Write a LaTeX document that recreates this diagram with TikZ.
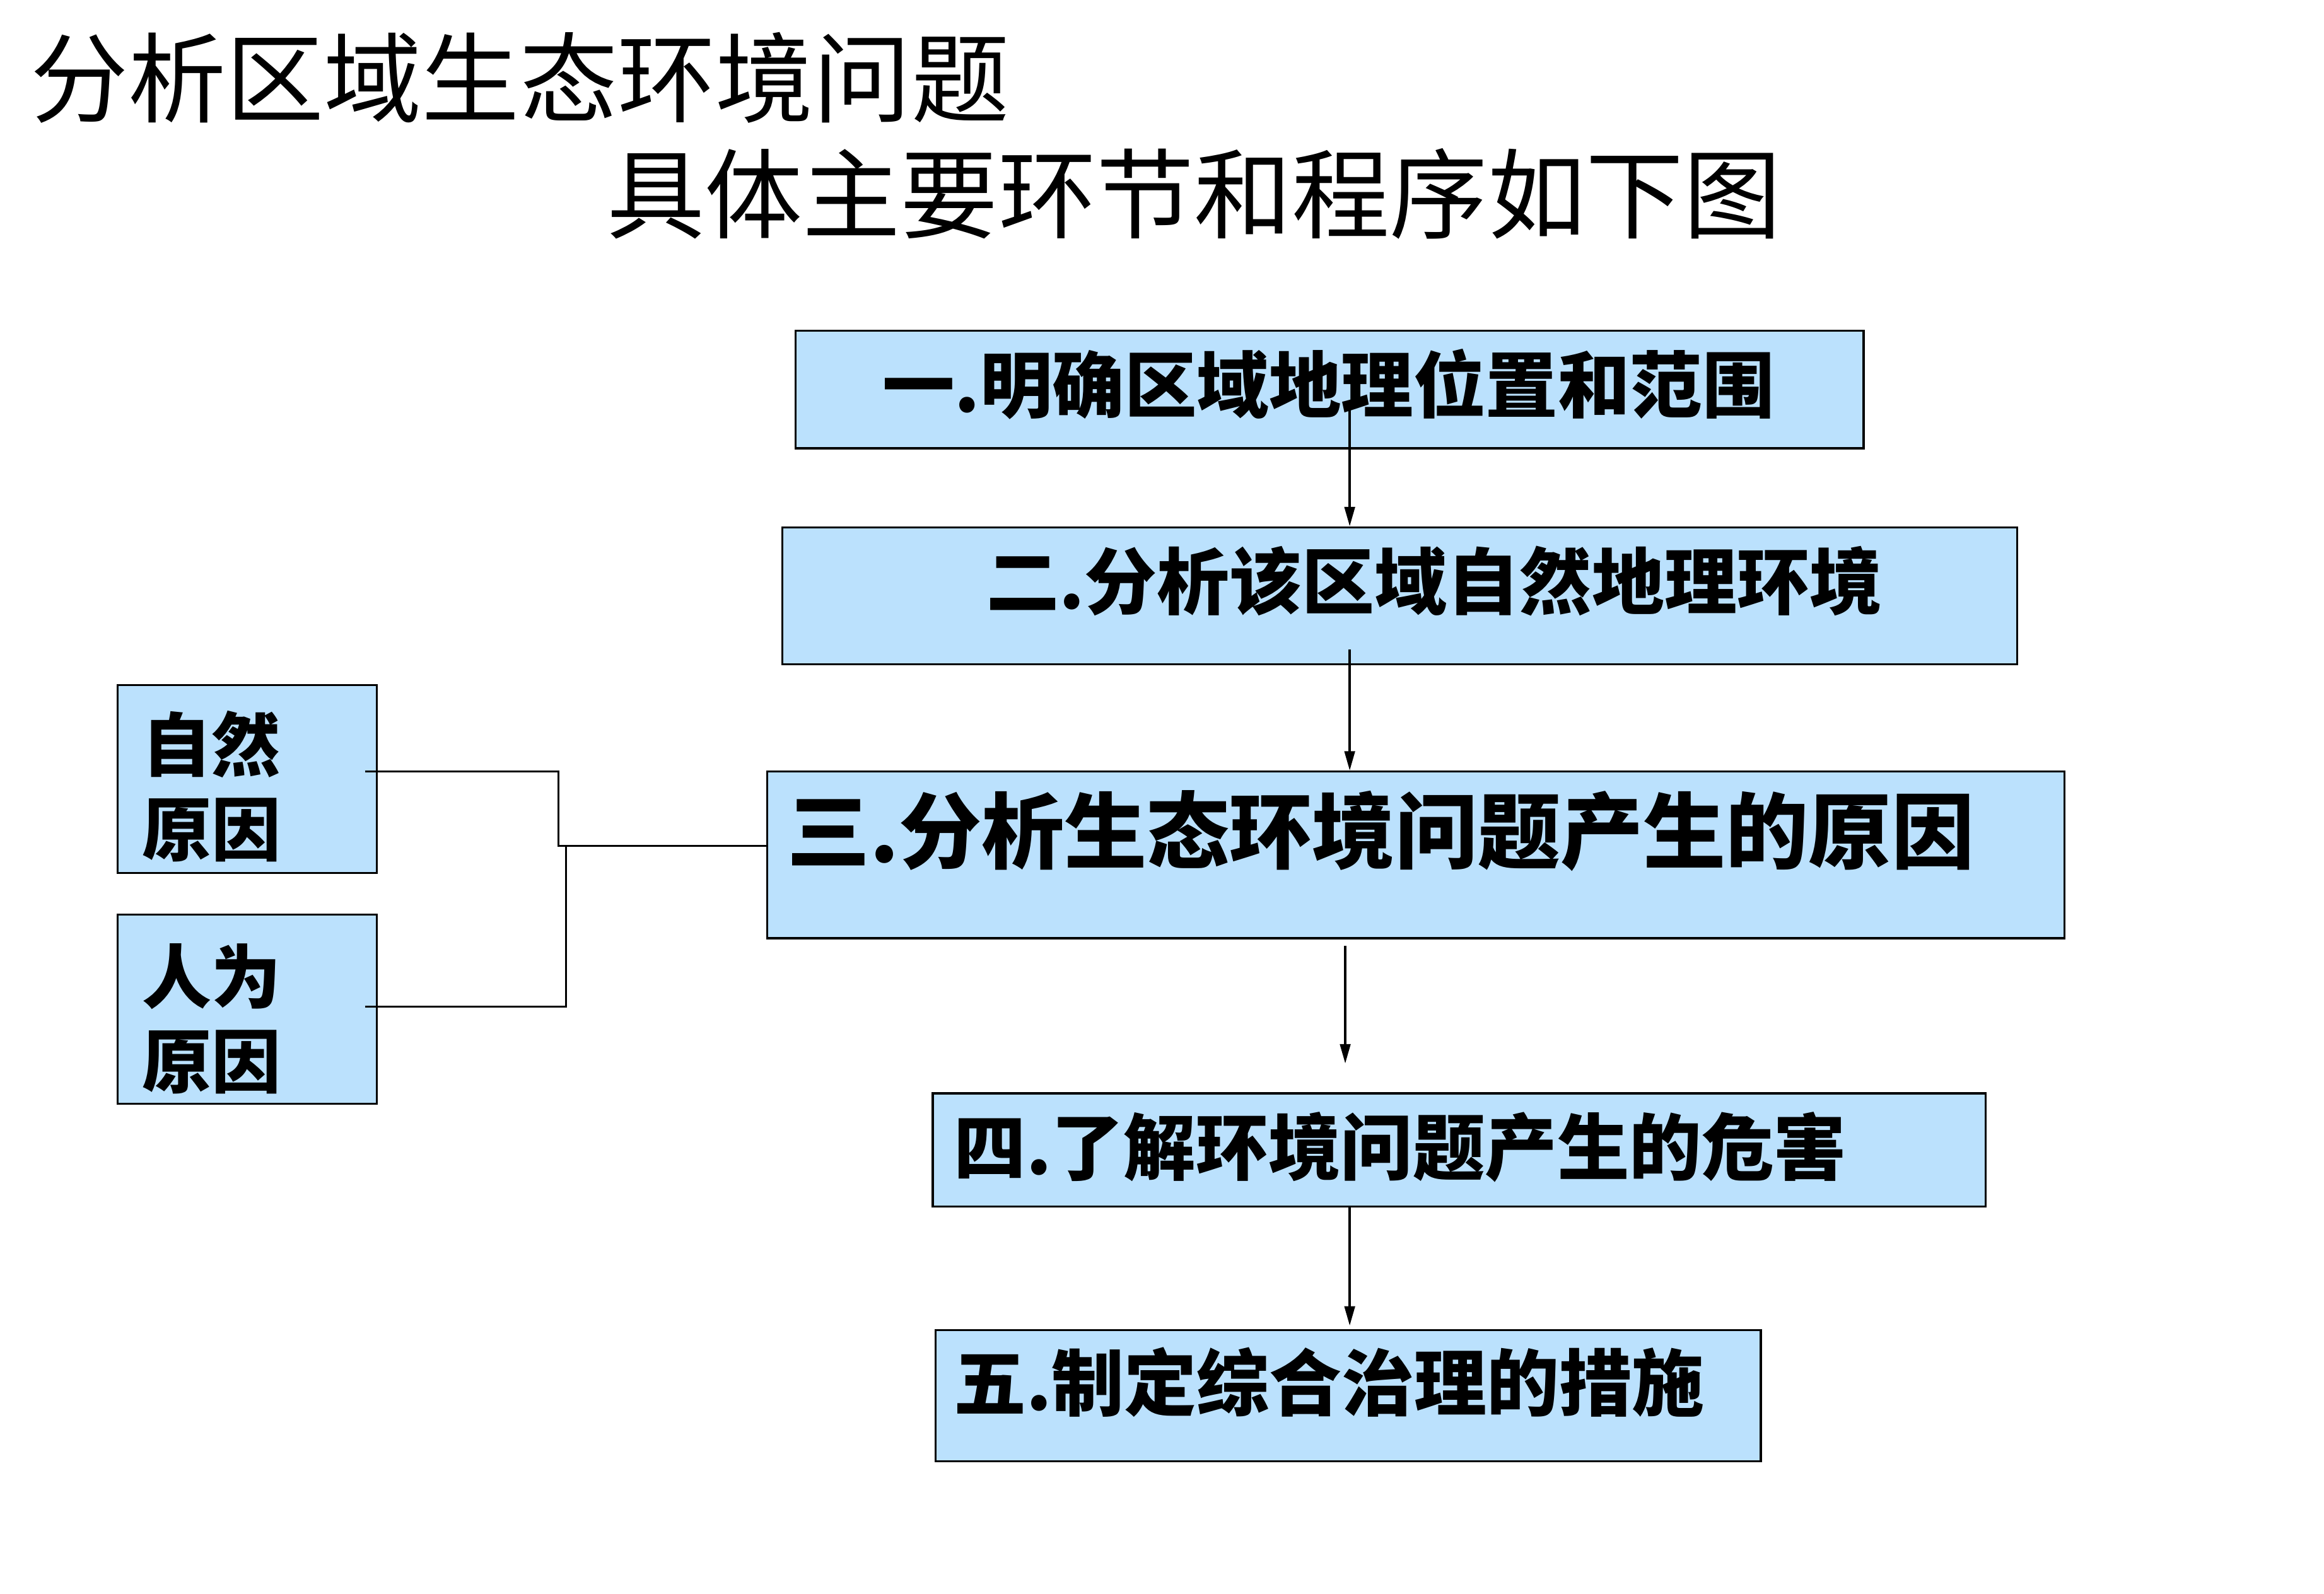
\documentclass[tikz,border=0pt]{standalone}
\usepackage{fontspec}
\usepackage{xcolor}
\usetikzlibrary{positioning}
\usetikzlibrary{arrows.meta}
\newfontfamily\cjk{Noto Sans CJK SC}
\definecolor{boxblue}{RGB}{187,225,253}

\tikzset{
  stagebox/.style={draw=black, line width=0.8pt, fill=boxblue, inner sep=0pt},
  stagetext/.style={anchor=west, inner sep=0pt, font=\cjk\bfseries\fontsize{#1}{#1}\selectfont},
  causetext/.style={anchor=west, inner sep=0pt, align=left, font=\cjk\bfseries\fontsize{26.5pt}{32.4pt}\selectfont},
  titletext/.style={anchor=west, inner sep=0pt, font=\cjk\fontsize{37.4pt}{44pt}\selectfont},
  flow/.style={draw=black, line width=0.8pt, -{Triangle[length=2.6mm,width=1.4mm]}},
  link/.style={draw=black, line width=0.8pt}
}

\begin{document}
\begin{tikzpicture}[x=0.02cm, y=-0.02cm]
\useasboundingbox (0,0) rectangle (1560,1070);

% title
\node[titletext] (title1) at (20,52) {分析区域生态环境问题};
\node[titletext] (title2) at (407,130) {具体主要环节和程序如下图};

% boxes
\node[stagebox, minimum width=14.34cm, minimum height=1.58cm] (b1) at (892.5,261.5) {};
\node[stagebox, minimum width=16.58cm, minimum height=1.84cm] (b2) at (939.5,400) {};
\node[stagebox, minimum width=17.42cm, minimum height=2.24cm] (b3) at (950.5,574) {};
\node[stagebox, minimum width=14.14cm, minimum height=1.52cm] (b4) at (979.5,772) {};
\node[stagebox, minimum width=11.08cm, minimum height=1.76cm] (b5) at (905,937) {};

\node[stagebox, minimum width=3.48cm, minimum height=2.52cm] (nat) at (166,523) {};
\node[stagebox, minimum width=3.48cm, minimum height=2.54cm] (hum) at (166,677.5) {};

% texts
\node[stagetext=27.6pt] (t1) at (592,258) {一.明确区域地理位置和范围};
\node[stagetext=27.7pt] (t2) at (662,390) {二.分析该区域自然地理环境};
\node[stagetext=31.6pt] (t3) at (528,558) {三.分析生态环境问题产生的原因};
\node[stagetext=27.6pt] (t4) at (640,770) {四.了解环境问题产生的危害};
\node[stagetext=27.7pt] (t5) at (640,928) {五.制定综合治理的措施};

\node[causetext] (tn) at (95,528) {自然\\原因};
\node[causetext] (th) at (95,684) {人为\\原因};

% arrows
\coordinate (a1) at (906,275);
\coordinate (a2) at (906,436);
\coordinate (a3) at (903,635);
\coordinate (a4) at (903,714);
\coordinate (a5) at (906,890);
\draw[flow] (a1) -- (a1 |- b2.north);
\draw[flow] (a2) -- (a2 |- b3.north);
\draw[flow] (a3) -- (a4);
\draw[flow] (a5 |- b4.south) -- (a5);

% cause lines
\coordinate (n1) at (245,518);
\coordinate (h1) at (245,676);
\coordinate (j1) at (375,518);
\coordinate (j2) at (375,568);
\coordinate (j3) at (380,676);
\draw[link] (n1) -- (j1) -- (j2) -- (j2 -| b3.west);
\draw[link] (h1) -- (j3) -- (j3 |- j2) -- (j2);

\end{tikzpicture}
\end{document}
